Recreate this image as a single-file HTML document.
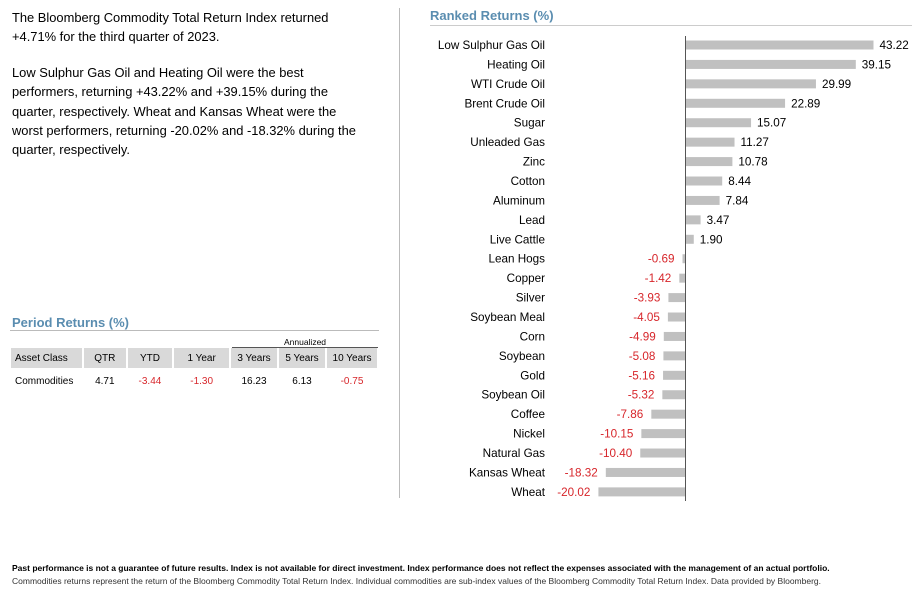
<!DOCTYPE html>
<html><head><meta charset="utf-8"><style>
body{margin:0;width:916px;height:606px;background:#fff;font-family:"Liberation Sans",Arial,sans-serif;color:#000;position:relative;overflow:hidden}
.abs{position:absolute}
.intro{left:12px;top:8px;width:380px;font-size:12.9px;line-height:19.4px;white-space:nowrap}
.intro p{margin:0 0 16px 0}
.title{font-weight:bold;font-size:13px;color:#5a8db0}
table{border-collapse:separate;border-spacing:2px 0;font-size:10px}
.neg{color:#d7262b}
svg text{font-family:"Liberation Sans",Arial,sans-serif;font-size:11.7px}
</style></head><body>
<div class="abs intro">
<p>The Bloomberg Commodity Total Return Index returned<br>+4.71% for the third quarter of 2023.</p>
<p>Low Sulphur Gas Oil and Heating Oil were the best<br>performers, returning +43.22% and +39.15% during the<br>quarter, respectively. Wheat and Kansas Wheat were the<br>worst performers, returning -20.02% and -18.32% during the<br>quarter, respectively.</p>
</div>
<div class="abs title" style="left:12px;top:315px">Period Returns (%)</div>
<div class="abs" style="left:10px;top:330px;width:369px;height:1px;background:#bbb"></div>
<div class="abs" style="left:232px;top:337px;width:146px;text-align:center;font-size:8.5px">Annualized</div>
<div class="abs" style="left:232px;top:347px;width:146px;height:1px;background:#555"></div>
<div class="abs" style="left:9px;top:348px;width:370px">
<table style="width:370px">
<tr style="height:20px"><td style="background:#d9d9d9;padding-left:4px;width:66px">Asset Class</td><td style="background:#d9d9d9;text-align:center">QTR</td><td style="background:#d9d9d9;text-align:center">YTD</td><td style="background:#d9d9d9;text-align:center">1 Year</td><td style="background:#d9d9d9;text-align:center;width:44px">3 Years</td><td style="background:#d9d9d9;text-align:center;width:44px">5 Years</td><td style="background:#d9d9d9;text-align:center;width:48px">10 Years</td></tr>
<tr style="height:26px"><td style="padding-left:4px">Commodities</td><td style="text-align:center">4.71</td><td class="neg" style="text-align:center">-3.44</td><td class="neg" style="text-align:center">-1.30</td><td style="text-align:center">16.23</td><td style="text-align:center">6.13</td><td class="neg" style="text-align:center">-0.75</td></tr>
</table></div>
<div class="abs" style="left:399px;top:8px;width:1px;height:490px;background:#bbb"></div>
<div class="abs title" style="left:430px;top:8px">Ranked Returns (%)</div>
<div class="abs" style="left:430px;top:25px;width:482px;height:1px;background:#ccc"></div>
<svg class="abs" style="left:0;top:0" width="916" height="606" id="chart"></svg>
<div class="abs" style="left:12px;top:563px;font-size:8.5px;font-weight:bold;white-space:nowrap">Past performance is not a guarantee of future results. Index is not available for direct investment. Index performance does not reflect the expenses associated with the management of an actual portfolio.</div>
<div class="abs" style="left:12px;top:576px;font-size:8.5px;color:#333;white-space:nowrap">Commodities returns represent the return of the Bloomberg Commodity Total Return Index. Individual commodities are sub-index values of the Bloomberg Commodity Total Return Index. Data provided by Bloomberg.</div>
<script>
const categories=["Low Sulphur Gas Oil","Heating Oil","WTI Crude Oil","Brent Crude Oil","Sugar","Unleaded Gas","Zinc","Cotton","Aluminum","Lead","Live Cattle","Lean Hogs","Copper","Silver","Soybean Meal","Corn","Soybean","Gold","Soybean Oil","Coffee","Nickel","Natural Gas","Kansas Wheat","Wheat"];
const values=[43.22,39.15,29.99,22.89,15.07,11.27,10.78,8.44,7.84,3.47,1.90,-0.69,-1.42,-3.93,-4.05,-4.99,-5.08,-5.16,-5.32,-7.86,-10.15,-10.40,-18.32,-20.02];
const labels=["43.22","39.15","29.99","22.89","15.07","11.27","10.78","8.44","7.84","3.47","1.90","-0.69","-1.42","-3.93","-4.05","-4.99","-5.08","-5.16","-5.32","-7.86","-10.15","-10.40","-18.32","-20.02"];
const NS="http://www.w3.org/2000/svg";
const svg=document.getElementById('chart');
const x0=685.5,k=188/43.22;
function xs(v){return x0+v*k;}
function ys(i){return 45+i*19.43;}
function mk(t,a){const e=document.createElementNS(NS,t);for(const n in a)e.setAttribute(n,a[n]);svg.appendChild(e);return e;}
categories.forEach((c,i)=>{
 const v=values[i],y=ys(i);
 const x1=Math.min(xs(0),xs(v)),w=Math.abs(xs(v)-xs(0));
 const r=mk('rect',{x:x1,y:y-4.5,width:w,height:9,fill:'#c0c0c0'});
 
 
 const t=mk('text',{x:545,y:y+4,'text-anchor':'end'});
 t.textContent=c;
 
 
 const vl=mk('text',{x:v>=0?xs(v)+6:xs(v)-8,y:y+4,'text-anchor':v>=0?'start':'end',fill:v>=0?'#000':'#d7262b'});
 vl.textContent=labels[i];
 
 
});
const ax=mk('line',{x1:x0,x2:x0,y1:36,y2:501,stroke:'#555','stroke-width':1});


</script>
</body></html>
